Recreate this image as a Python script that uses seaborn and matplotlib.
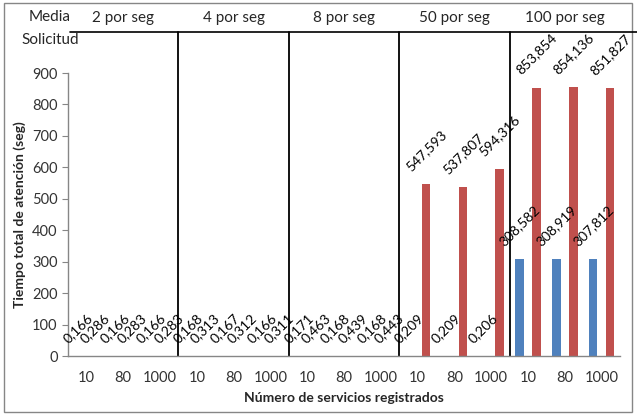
import pandas as pd
import seaborn as sns
import matplotlib.pyplot as plt
from matplotlib.lines import Line2D
from matplotlib.patches import Rectangle
import matplotlib.transforms as mtransforms

# Datos
grupos = ['2 por seg', '4 por seg', '8 por seg', '50 por seg', '100 por seg']
servicios = ['10', '80', '1000']
serie_azul = [0.166, 0.166, 0.166,
              0.168, 0.167, 0.166,
              0.171, 0.168, 0.168,
              0.209, 0.209, 0.206,
              308.582, 308.919, 307.812]
serie_roja = [0.286, 0.283, 0.283,
              0.313, 0.312, 0.311,
              0.463, 0.439, 0.443,
              547.593, 537.807, 594.316,
              853.854, 854.136, 851.827]
y_ticks = [0, 100, 200, 300, 400, 500, 600, 700, 800, 900]

# Armar tabla larga para seaborn
filas = []
for i, g in enumerate(grupos):
    for j, s in enumerate(servicios):
        k = i * 3 + j
        cat = g + ' / ' + s
        filas.append({'cat': cat, 'serie': 'Serie 1', 'tiempo': serie_azul[k]})
        filas.append({'cat': cat, 'serie': 'Serie 2', 'tiempo': serie_roja[k]})
df = pd.DataFrame(filas)
orden = list(dict.fromkeys(df['cat']))

sns.set_style('white')
plt.rcParams['font.family'] = ['Lato', 'DejaVu Sans']

fig = plt.figure(figsize=(6.37, 4.15), dpi=100)
ax = fig.add_axes([68 / 637, 1 - 356 / 415, (620 - 68) / 637, (356 - 73) / 415])

sns.barplot(data=df, x='cat', y='tiempo', hue='serie', order=orden,
            palette=['#4F81BD', '#C0504D'], saturation=1, width=0.93, gap=0.5,
            linewidth=0, legend=False, ax=ax)

# Etiquetas de datos rotadas
for cont in ax.containers:
    etiquetas = [f'{b.get_height():.3f}'.replace('.', ',') for b in cont]
    ax.bar_label(cont, labels=etiquetas, rotation=45, padding=8,
                 fontsize=10, color='#000000')

ax.set_xlim(-0.5, 14.5)
ax.set_ylim(0, 900)
ax.set_yticks(y_ticks)
ax.set_xticks(range(15))
ax.set_xticklabels(servicios * 5)
ax.set_xticks([x - 0.5 for x in range(16)], minor=True)
ax.tick_params(axis='x', which='major', length=0, pad=11, labelsize=10.5, colors='#333333')
ax.tick_params(axis='x', which='minor', length=4, direction='out', color='#868686', width=1)
ax.tick_params(axis='y', length=4, direction='out', color='#868686', labelsize=10.5,
               labelcolor='#333333', left=True)

for lado in ['top', 'right']:
    ax.spines[lado].set_visible(False)
for lado in ['left', 'bottom']:
    ax.spines[lado].set_color('#868686')
    ax.spines[lado].set_linewidth(1)

ax.set_xlabel('Número de servicios registrados', fontsize=10, fontweight='bold', labelpad=5)
ax.set_ylabel('Tiempo total de atención (seg)', fontsize=10, fontweight='bold', labelpad=4)

# Separadores de grupos y encabezados
trans = mtransforms.blended_transform_factory(ax.transData, ax.transAxes)
top_sep = (356 - 32) / (356 - 73)
for b in [2.5, 5.5, 8.5, 11.5]:
    ax.plot([b, b], [0, top_sep], transform=trans, color='black', lw=1.3, clip_on=False)
for i, g in enumerate(grupos):
    ax.text(i * 3 + 1, (356 - 18) / (356 - 73), g, transform=trans,
            ha='center', va='center', fontsize=11)

fig.add_artist(Line2D([70 / 637, 1.0], [1 - 32 / 415, 1 - 32 / 415],
                      color='black', lw=1.2))
fig.text(50 / 637, 1 - 17 / 415, 'Media', ha='center', va='center', fontsize=11)
fig.text(50 / 637, 1 - 40 / 415, 'Solicitud', ha='center', va='center', fontsize=11)

# Marco exterior
fig.add_artist(Rectangle((4 / 637, 3 / 415), 628 / 637, 409 / 415, fill=False,
                         edgecolor='#868686', lw=1, transform=fig.transFigure))

fig.savefig('out.png', dpi=100)
